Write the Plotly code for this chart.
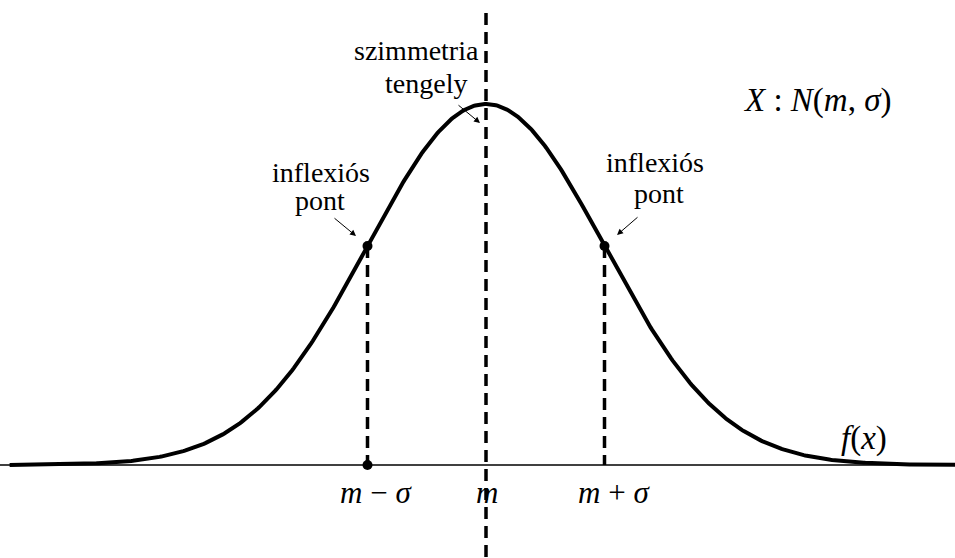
import numpy as np
import plotly.graph_objects as go

# Normal distribution parameters (standardised units)
m = 0.0
sigma = 1.0
x_min, x_max = -4.02, 3.96

# Axis window: 955 x 558 page, centre of curve at pixel 486, one sigma = 118.5 px,
# peak height 361 px above baseline at pixel 465
PX_PER_X = 118.5
PX_PER_Y = 361.0
X0_PX, Y0_PX = 486.0, 465.0
W, H = 955, 558


def dx(px):
    return (px - X0_PX) / PX_PER_X


def dy(py):
    return (Y0_PX - py) / PX_PER_Y


xs = np.linspace(x_min, x_max, 600)
ys = np.exp(-0.5 * ((xs - m) / sigma) ** 2)
y_infl = np.exp(-0.5)

fig = go.Figure()

# baseline
fig.add_trace(go.Scatter(x=[dx(0), dx(W)], y=[0, 0], mode="lines",
                         line=dict(color="black", width=1.6), hoverinfo="skip"))
# density curve
fig.add_trace(go.Scatter(x=xs, y=ys, mode="lines",
                         line=dict(color="black", width=4), hoverinfo="skip"))
# symmetry axis
fig.add_trace(go.Scatter(x=[m, m], y=[dy(13), dy(H + 5)], mode="lines",
                         line=dict(color="black", width=3.5, dash="12px,7px"),
                         hoverinfo="skip"))
# dashed drops from the inflection points
for xv in (m - sigma, m + sigma):
    fig.add_trace(go.Scatter(x=[xv, xv], y=[y_infl, 0], mode="lines",
                             line=dict(color="black", width=3.5, dash="12px,7px"),
                             hoverinfo="skip"))
# points
fig.add_trace(go.Scatter(x=[m - sigma, m + sigma, m - sigma], y=[y_infl, y_infl, 0],
                         mode="markers", marker=dict(color="black", size=10),
                         hoverinfo="skip"))

SERIF = "Liberation Serif"


def label(text, cx, cy, size=28):
    fig.add_annotation(x=dx(cx), y=dy(cy), text=text, showarrow=False,
                       xanchor="center", yanchor="middle",
                       font=dict(family=SERIF, size=size, color="black"))


label("szimmetria", 416, 50)
label("tengely", 426, 83)
label("inflexiós", 321, 172)
label("pont", 320, 200)
label("inflexiós", 655, 162)
label("pont", 659, 193)
label("<i>X</i> : <i>N</i>(<i>m</i>, <i>σ</i>)", 817, 100, 33)
label("<i>f</i>(<i>x</i>)", 864, 438, 33)
label("<i>m</i> − <i>σ</i>", 376, 492, 31)
label("<i>m</i>", 487, 492, 31)
label("<i>m</i> + <i>σ</i>", 614, 492, 31)


def arrow(tail, head):
    fig.add_annotation(x=dx(head[0]), y=dy(head[1]), ax=dx(tail[0]), ay=dy(tail[1]),
                       xref="x", yref="y", axref="x", ayref="y", text="",
                       showarrow=True, arrowhead=2, arrowsize=1.2, arrowwidth=1,
                       arrowcolor="black")


arrow((333, 217), (356, 236))
arrow((457, 104), (480, 123))
arrow((639, 216), (617, 235))

fig.update_layout(
    width=W, height=H,
    margin=dict(l=0, r=0, t=0, b=0),
    font=dict(family=SERIF, color="black"),
    paper_bgcolor="white", plot_bgcolor="white",
    showlegend=False,
    xaxis=dict(range=[dx(0), dx(W)], visible=False, fixedrange=True),
    yaxis=dict(range=[dy(H), dy(0)], visible=False, fixedrange=True),
)

fig.write_html("out.html")
